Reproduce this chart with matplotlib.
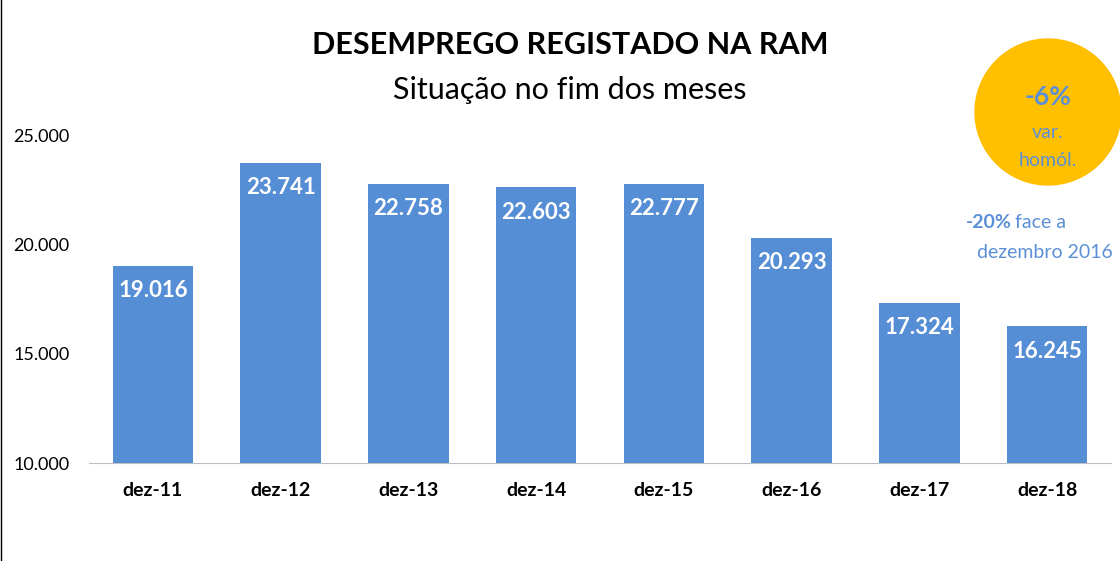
import matplotlib
matplotlib.use("Agg")
import matplotlib.pyplot as plt
from matplotlib.patches import Ellipse

categories = ["dez-11","dez-12","dez-13","dez-14","dez-15","dez-16","dez-17","dez-18"]
values = [19016, 23741, 22758, 22603, 22777, 20293, 17324, 16245]
labels = ["19.016","23.741","22.758","22.603","22.777","20.293","17.324","16.245"]
yticks = [10000, 15000, 20000, 25000]
ytick_labels = ["10.000","15.000","20.000","25.000"]

plt.rcParams['font.family'] = ['Lato', 'DejaVu Sans']
W, H = 1120, 561
fig = plt.figure(figsize=(W/100, H/100), dpi=100)
ax = fig.add_axes([89/W, 1-463/H, (1111-89)/W, (463-135)/H])
x = range(len(categories))
ax.bar(x, [v-10000 for v in values], bottom=10000, width=0.63, color="#558ED5")
for i, (v, l) in enumerate(zip(values, labels)):
    ax.text(i, v - 650, l, ha="center", va="top", color="white", fontsize=16, fontweight="bold")
ax.set_xlim(-0.5, 7.5)
ax.set_ylim(10000, 25000)
ax.set_yticks(yticks)
ax.set_yticklabels(ytick_labels, fontsize=13)
ax.set_xticks(list(x))
ax.set_xticklabels(categories, fontsize=14, fontweight="bold")
ax.tick_params(length=0)
ax.tick_params(axis="x", pad=14)
ax.tick_params(axis="y", pad=14)
for s in ["top", "right", "left"]:
    ax.spines[s].set_visible(False)
ax.spines["bottom"].set_color("#BFBFBF")
ax.spines["bottom"].set_zorder(0)

fig.text(570/W, 1-45/H, "DESEMPREGO REGISTADO NA RAM", ha="center", va="center", fontsize=22, fontweight="bold")
fig.text(570/W, 1-90/H, "Situação no fim dos meses", ha="center", va="center", fontsize=22)

fig.patches.append(Ellipse((1048/W, 1-112/H), 146/W, 146/H, transform=fig.transFigure, color="#FFC000", zorder=5))
blue = "#5B8FD6"
fig.text(1048/W, 1-97/H, "-6%", ha="center", va="center", fontsize=19, fontweight="bold", color=blue, zorder=6)
fig.text(1048/W, 1-132/H, "var.", ha="center", va="center", fontsize=14, color=blue, zorder=6)
fig.text(1048/W, 1-160/H, "homól.", ha="center", va="center", fontsize=14, color=blue, zorder=6)
fig.text(1012/W, 1-222/H, "-20%", ha="right", va="center", fontsize=14, fontweight="bold", color=blue)
fig.text(1015/W, 1-222/H, "face a", ha="left", va="center", fontsize=14, color=blue)
fig.text(1045/W, 1-252/H, "dezembro 2016", ha="center", va="center", fontsize=14, color=blue)

fig.add_artist(plt.Line2D([1/W, 1/W], [0, 1], transform=fig.transFigure, color="black", lw=1))
fig.savefig("out.png", dpi=100)
